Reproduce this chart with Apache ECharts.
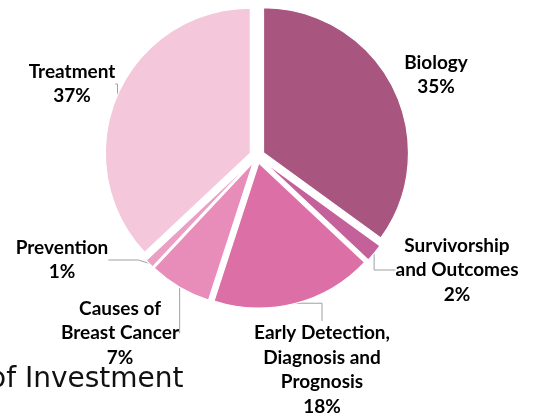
<!DOCTYPE html>
<html>
<head>
<meta charset="utf-8">
<script src="https://cdn.jsdelivr.net/npm/echarts@6/dist/echarts.min.js"></script>
<style>
html,body{margin:0;padding:0;background:#fff;}
#chart{width:537px;height:417px;}
</style>
</head>
<body>
<div id="chart"></div>
<script>
const categories = ['Biology', 'Survivorship\nand Outcomes', 'Early Detection,\nDiagnosis and\nPrognosis', 'Causes of\nBreast Cancer', 'Prevention', 'Treatment'];
const values = [35, 2, 18, 7, 1, 37];
const colors = ['#A8567F', '#C4609A', '#DD6FA7', '#E88DBA', '#EC9FC5', '#F4C7DB'];
const labelCenters = [[436, 75], [457, 270], [322, 370], [120, 333], [62, 260], [72, 84]];
const titleText = 'of Investment';

const chart = echarts.init(document.getElementById('chart'), null, {renderer: 'canvas'});
const center = [257, 156];

const pieData = categories.map((c, i) => ({
  name: c, value: values[i], selected: true, itemStyle: {color: colors[i]}
}));
const labelData = categories.map((c, i) => ({
  name: c, value: values[i], labelLine: {show: i !== 0}
}));

chart.setOption({
  animation: false,
  graphic: [{
    type: 'text',
    left: -11,
    top: 366,
    style: {text: titleText, font: '28px "DejaVu Sans"', fill: '#111'}
  }],
  series: [{
    // label layer (drawn beneath the exploded pie)
    type: 'pie',
    z: 1,
    center: center,
    radius: [0, 152],
    startAngle: 90,
    clockwise: true,
    selectedMode: false,
    silent: true,
    emphasis: {disabled: true},
    itemStyle: {color: 'rgba(0,0,0,0)'},
    label: {
      show: true,
      position: 'outside',
      alignTo: 'none',
      overflow: 'none',
      formatter: p => p.name + '\n' + p.value + '%',
      fontFamily: 'Lato',
      fontWeight: 'bold',
      fontSize: 19,
      lineHeight: 24.5,
      color: '#000',
      align: 'center'
    },
    labelLine: {show: true, lineStyle: {color: '#a0a0a0', width: 1}},
    labelLayout: function (params) {
      const c = labelCenters[params.dataIndex];
      return {x: c[0], y: c[1], align: 'center', verticalAlign: 'middle'};
    },
    data: labelData
  }, {
    type: 'pie',
    z: 2,
    center: center,
    radius: [0, 145],
    startAngle: 90,
    clockwise: true,
    selectedMode: 'multiple',
    selectedOffset: 7.3,
    silent: true,
    emphasis: {disabled: true},
    itemStyle: {borderColor: '#fff', borderWidth: 1.2},
    label: {show: false},
    labelLine: {show: false},
    data: pieData
  }]
});
</script>
</body>
</html>
